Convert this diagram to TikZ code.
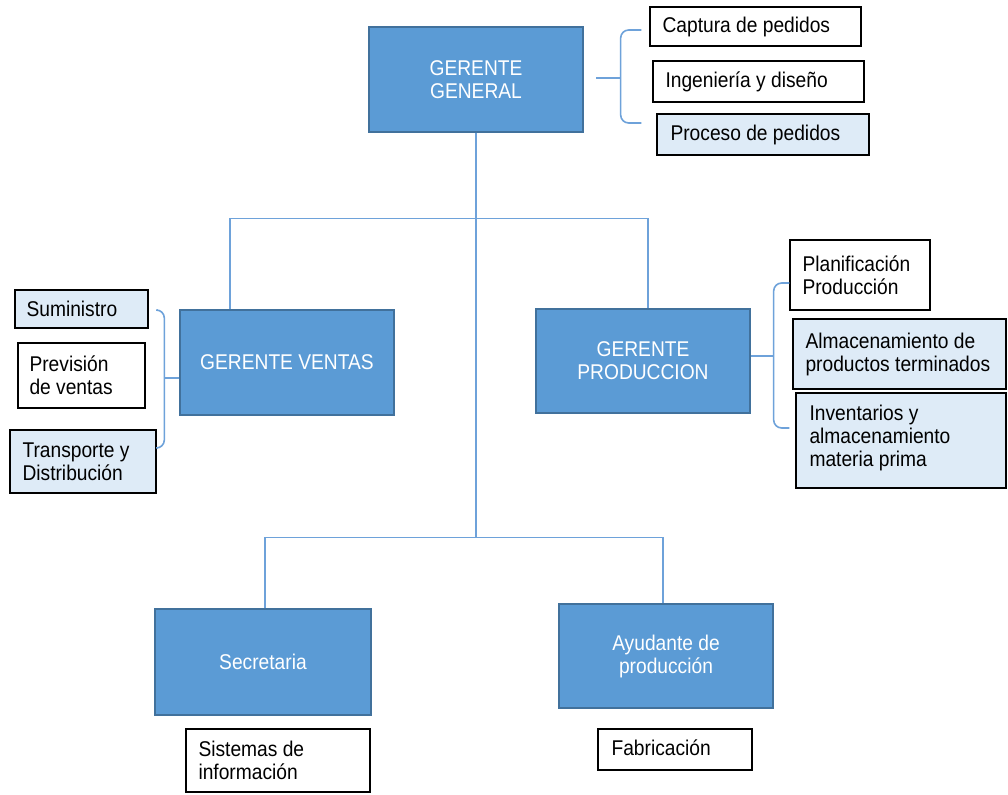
\documentclass[tikz,border=0pt]{standalone}
\usepackage{fontspec}
\setmainfont{Liberation Sans}[FakeStretch=0.9]
\usetikzlibrary{calc}
\definecolor{boxblue}{HTML}{5B9BD5}
\definecolor{boxedge}{HTML}{41719C}
\definecolor{lightbox}{HTML}{DEEBF7}
\definecolor{linkblue}{RGB}{110,162,218}
\begin{document}
\begin{tikzpicture}[x=0.75pt,y=-0.75pt,
  font=\fontsize{16}{17.25}\selectfont,
  mainbox/.style={draw=boxedge, fill=boxblue, line width=1pt, text=white, align=center, inner sep=0pt},
  sidebox/.style={draw=black, line width=1.1pt, inner sep=0pt},
  litebox/.style={sidebox, fill=lightbox},
  wbox/.style={sidebox, fill=white},
  sidetext/.style={anchor=west, align=left, inner sep=0pt, text=black},
  link/.style={draw=linkblue, line width=1.2pt},
  brace/.style={link, rounded corners=6pt}]

\useasboundingbox[fill=white] (0,0) rectangle (1008,795);

% main boxes
\node[mainbox, minimum width=160.5pt, minimum height=78.75pt] (gg) at (476,79.5) {GERENTE\\GENERAL};
\node[mainbox, minimum width=160.5pt, minimum height=78.75pt] (gv) at (287,362.5) {GERENTE VENTAS};
\node[mainbox, minimum width=160.5pt, minimum height=78pt] (gp) at (643,361) {GERENTE\\PRODUCCION};
\node[mainbox, minimum width=162pt, minimum height=79.5pt] (sec) at (263,662) {Secretaria};
\node[mainbox, minimum width=160.5pt, minimum height=78pt] (ayu) at (666,656) {Ayudante de\\producción};

% side boxes top right
\node[wbox, minimum width=158.25pt, minimum height=29.25pt] (cap) at (755.5,26.5) {};
\node[sidetext] (capt) at ($(cap.west)+(13,0)$) {Captura de pedidos};
\node[wbox, minimum width=158.25pt, minimum height=30.75pt] (ing) at (758.5,81.5) {};
\node[sidetext] (ingt) at ($(ing.west)+(13,0)$) {Ingeniería y diseño};
\node[litebox, minimum width=159pt, minimum height=30.75pt] (pro) at (763,134.5) {};
\node[sidetext] (prot) at ($(pro.west)+(14,0)$) {Proceso de pedidos};

% side boxes left
\node[litebox, minimum width=99.75pt, minimum height=28.5pt] (sum) at (81.5,309) {};
\node[sidetext] (sumt) at ($(sum.west)+(12,0)$) {Suministro};
\node[wbox, minimum width=95.25pt, minimum height=48.75pt] (pre) at (81.5,375.5) {};
\node[sidetext] (pret) at ($(pre.west)+(12,0)$) {Previsión\\de ventas};
\node[litebox, minimum width=109.5pt, minimum height=47.25pt] (tra) at (83,461.5) {};
\node[sidetext] (trat) at ($(tra.west)+(13,0)$) {Transporte y\\Distribución};

% side boxes right
\node[wbox, minimum width=105pt, minimum height=52.5pt] (pla) at (860,275) {};
\node[sidetext] (plat) at ($(pla.west)+(13,0)$) {Planificación\\Producción};
\node[litebox, minimum width=159.75pt, minimum height=52.5pt] (alm) at (899.5,354) {};
\node[sidetext] (almt) at ($(alm.west)+(13,0)$) {Almacenamiento de\\productos terminados};
\node[litebox, minimum width=157.5pt, minimum height=71.25pt] (inv) at (901,440.5) {};
\node[sidetext] (invt) at ($(inv.west)+(14,-3)$) {Inventarios y\\almacenamiento\\materia prima};

% bottom boxes
\node[wbox, minimum width=138pt, minimum height=47.25pt] (sis) at (278,760.5) {};
\node[sidetext] (sist) at ($(sis.west)+(13,0)$) {Sistemas de\\información};
\node[wbox, minimum width=115.5pt, minimum height=30.75pt] (fab) at (675,749.5) {};
\node[sidetext] (fabt) at ($(fab.west)+(14,-2)$) {Fabricación};

% org connectors
\coordinate (j1) at ($(gg.south)+(0,86)$);
\coordinate (j2) at ($(gg.south)+(0,405)$);
\draw[link] (gg.south) -- (j2);
\draw[link] ($(gv.north)+(-57,0)$) |- (j1) -| ($(gp.north)+(5,0)$);
\draw[link] ($(sec.north)+(2,0)$) |- (j2) -| ($(ayu.north)+(-3,0)$);

% brace top right
\coordinate (b1top) at ($(cap.west)+(-8,3.5)$);
\coordinate (b1bot) at ($(pro.west)+(-15,-11.5)$);
\coordinate (b1mid) at ($(gg.east)+(37,-1.5)$);
\coordinate (b1tip) at ($(gg.east)+(12,-1.5)$);
\draw[brace] (b1top) -- (b1top -| b1mid) -- (b1bot -| b1mid) -- (b1bot);
\draw[link] (b1mid) -- (b1tip);

% brace left
\coordinate (b2top) at ($(sum.east)+(9,1)$);
\coordinate (b2bot) at ($(tra.east)+(1,-13.5)$);
\coordinate (b2tip) at ($(gv.west)+(0,15.5)$);
\coordinate (b2mid) at ($(b2tip)+(-15,0)$);
\draw[brace] (b2top) -- (b2top -| b2mid) -- (b2bot -| b2mid) -- (b2bot);
\draw[link] (b2mid) -- (b2tip);

% brace right
\coordinate (b3top) at ($(pla.west)+(0,8)$);
\coordinate (b3bot) at ($(inv.west)+(-6,-12.5)$);
\coordinate (b3tip) at ($(gp.east)+(0,-5)$);
\coordinate (b3mid) at ($(b3tip)+(23,0)$);
\draw[brace] (b3top) -- (b3top -| b3mid) -- (b3bot -| b3mid) -- (b3bot);
\draw[link] (b3mid) -- (b3tip);
\end{tikzpicture}
\end{document}
